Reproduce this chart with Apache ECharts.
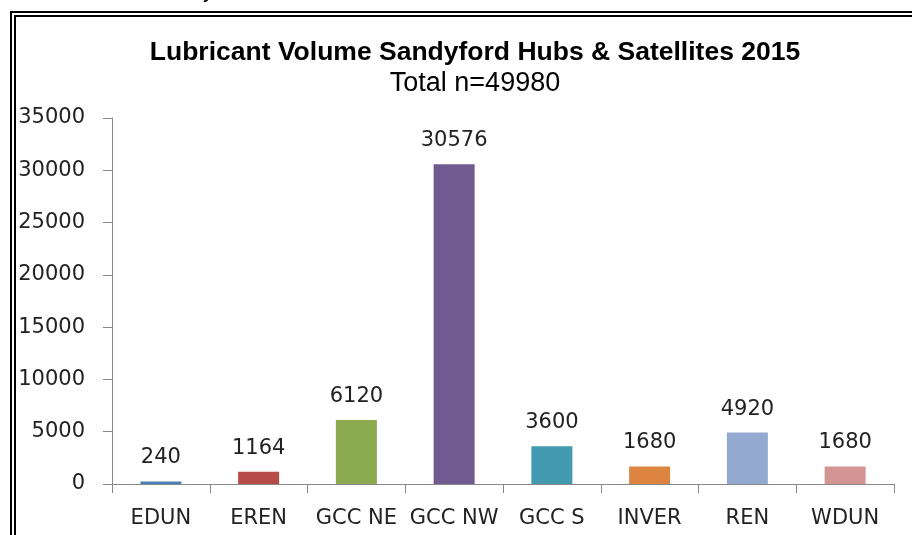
<!DOCTYPE html>
<html>
<head>
<meta charset="utf-8">
<script src="https://cdn.jsdelivr.net/npm/echarts@6/dist/echarts.min.js"></script>
<style>
  html, body { margin: 0; padding: 0; background: #fff; }
  #main { width: 912px; height: 535px; }
</style>
</head>
<body>
<div id="main"></div>
<script>
// chart data
var categories = ['EDUN', 'EREN', 'GCC NE', 'GCC NW', 'GCC S', 'INVER', 'REN', 'WDUN'];
var volumes = [240, 1164, 6120, 30576, 3600, 1680, 4920, 1680];
var barColors = ['#4a7ebb', '#b64b48', '#8ba94e', '#715a8f', '#4299b0', '#dd8540', '#93a9d0', '#d39494'];
var yTicks = [0, 5000, 10000, 15000, 20000, 25000, 30000, 35000];

var myChart = echarts.init(document.getElementById('main'));

var labelFont = 'DejaVu Sans';

myChart.setOption({
    animation: false,
    title: {
        text: 'Lubricant Volume Sandyford Hubs & Satellites 2015',
        subtext: 'Total n=49980',
        left: 470,
        textAlign: 'center',
        top: 34,
        itemGap: 4,
        textStyle: {
            fontFamily: 'Liberation Sans',
            fontWeight: 'bold',
            fontSize: 26.5,
            color: '#000'
        },
        subtextStyle: {
            fontFamily: 'Liberation Sans',
            fontSize: 27,
            color: '#000'
        }
    },
    grid: {
        left: 112,
        right: 18,
        top: 118,
        bottom: 51
    },
    xAxis: {
        type: 'category',
        data: categories,
        axisLine: { lineStyle: { color: '#888', width: 1 } },
        axisTick: { show: true, length: 9, lineStyle: { color: '#888' } },
        axisLabel: {
            interval: 0,
            fontFamily: labelFont,
            fontSize: 21,
            color: '#222',
            margin: 24
        }
    },
    yAxis: {
        type: 'value',
        min: yTicks[0],
        max: yTicks[yTicks.length - 1],
        interval: 5000,
        splitLine: { show: false },
        axisLine: { show: true, lineStyle: { color: '#888', width: 1 } },
        axisTick: { show: true, length: 9, lineStyle: { color: '#888' } },
        axisLabel: {
            fontFamily: labelFont,
            fontSize: 21,
            color: '#222',
            margin: 27,
            formatter: function (v) { return String(v); }
        }
    },
    series: [{
        type: 'bar',
        barWidth: 41,
        data: volumes.map(function (v, i) {
            return { value: v, itemStyle: { color: barColors[i] } };
        }),
        label: {
            show: true,
            position: 'top',
            distance: 13,
            fontFamily: labelFont,
            fontSize: 21,
            color: '#222'
        }
    }],
    graphic: [
        // outer double frame
        { type: 'line', shape: { x1: 11, y1: 12, x2: 11, y2: 540 }, style: { stroke: '#000', lineWidth: 2 } },
        { type: 'line', shape: { x1: 15, y1: 16, x2: 15, y2: 540 }, style: { stroke: '#000', lineWidth: 2 } },
        { type: 'line', shape: { x1: 10, y1: 12, x2: 920, y2: 12 }, style: { stroke: '#000', lineWidth: 2 } },
        { type: 'line', shape: { x1: 14, y1: 16, x2: 920, y2: 16 }, style: { stroke: '#000', lineWidth: 2 } },
        // cropped text fragment above the frame
        { type: 'text', left: 203, top: -13, style: { text: 'y', font: 'bold 16px Liberation Sans', fill: '#000' } }
    ]
});
</script>
</body>
</html>
